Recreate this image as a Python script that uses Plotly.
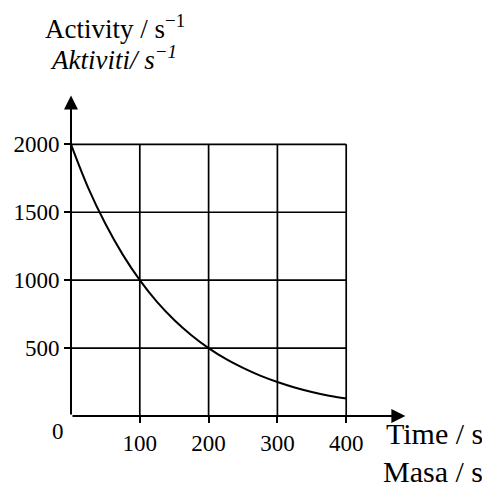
import plotly.graph_objects as go

# Data
time_s = [0, 25, 50, 75, 100, 125, 150, 175, 200, 225, 250, 275, 300, 325, 350, 375, 400]
activity = [2000, 1680, 1415, 1190, 1000, 840, 707, 595, 500, 420, 354, 297, 250, 210, 177, 149, 128]
x_ticks = [100, 200, 300, 400]
y_ticks = [500, 1000, 1500, 2000]
x_grid_max = 400
y_grid_max = 2000

FONT = "Liberation Serif, Times New Roman, serif"

fig = go.Figure()
fig.add_trace(go.Scatter(x=time_s, y=activity, mode="lines",
                         line=dict(color="black", width=2, shape="spline"),
                         hoverinfo="skip", showlegend=False))

shapes = []
for xv in x_ticks:
    shapes.append(dict(type="line", x0=xv, x1=xv, y0=0, y1=y_grid_max,
                       line=dict(color="black", width=1.7), layer="below"))
for yv in y_ticks:
    shapes.append(dict(type="line", x0=0, x1=x_grid_max, y0=yv, y1=yv,
                       line=dict(color="black", width=1.7), layer="below"))

ann = []
# axis arrows
ann.append(dict(x=486, y=0, ax=0, ay=0, axref="x", ayref="y", xref="x", yref="y",
                text="", showarrow=True, arrowhead=2, arrowsize=1.4, arrowwidth=2,
                arrowcolor="black"))
ann.append(dict(x=0, y=2360, ax=0, ay=0, axref="x", ayref="y", xref="x", yref="y",
                text="", showarrow=True, arrowhead=2, arrowsize=1.4, arrowwidth=2,
                arrowcolor="black"))
# origin label
ann.append(dict(x=0, y=0, xref="x", yref="y", text="0", showarrow=False,
                xshift=-13, yshift=-15, font=dict(family=FONT, size=23, color="black")))
# axis titles (paper coordinates)
ann.append(dict(x=0.1265, y=1.194, xref="paper", yref="paper", text="Activity / s<sup>−1</sup>",
                xanchor="center", yanchor="middle",
                showarrow=False, font=dict(family=FONT, size=27, color="black")))
ann.append(dict(x=0.1222, y=1.099, xref="paper", yref="paper", text="<i>Aktiviti/ s<sup>−1</sup></i>",
                xanchor="center", yanchor="middle",
                showarrow=False, font=dict(family=FONT, size=27, color="black")))
ann.append(dict(x=1.2044, y=-0.055, xref="paper", yref="paper", text="Time / s",
                xanchor="right", yanchor="middle",
                showarrow=False, font=dict(family=FONT, size=30, color="black")))
ann.append(dict(x=1.2044, y=-0.170, xref="paper", yref="paper", text="Masa / s",
                xanchor="right", yanchor="middle",
                showarrow=False, font=dict(family=FONT, size=30, color="black")))

fig.update_layout(
    width=490, height=490,
    margin=dict(l=63, r=83.25, t=81.6, b=82, pad=0, autoexpand=False),
    plot_bgcolor="white", paper_bgcolor="white",
    shapes=shapes, annotations=ann,
    font=dict(family=FONT, size=23, color="black"),
)
fig.update_xaxes(range=[0, 500], tickvals=x_ticks, ticktext=[str(v) for v in x_ticks],
                 ticks="outside", ticklen=6, tickwidth=1.7, tickcolor="black",
                 showgrid=False, zeroline=False, showline=False, automargin=False,
                 tickfont=dict(family=FONT, size=23, color="black"))
fig.update_yaxes(range=[0, 2400], tickvals=y_ticks, ticktext=[str(v) for v in y_ticks],
                 ticks="outside", ticklen=6, tickwidth=1.7, tickcolor="black",
                 showgrid=False, zeroline=False, showline=False, automargin=False,
                 tickfont=dict(family=FONT, size=23, color="black"))

fig.write_html("out.html")
